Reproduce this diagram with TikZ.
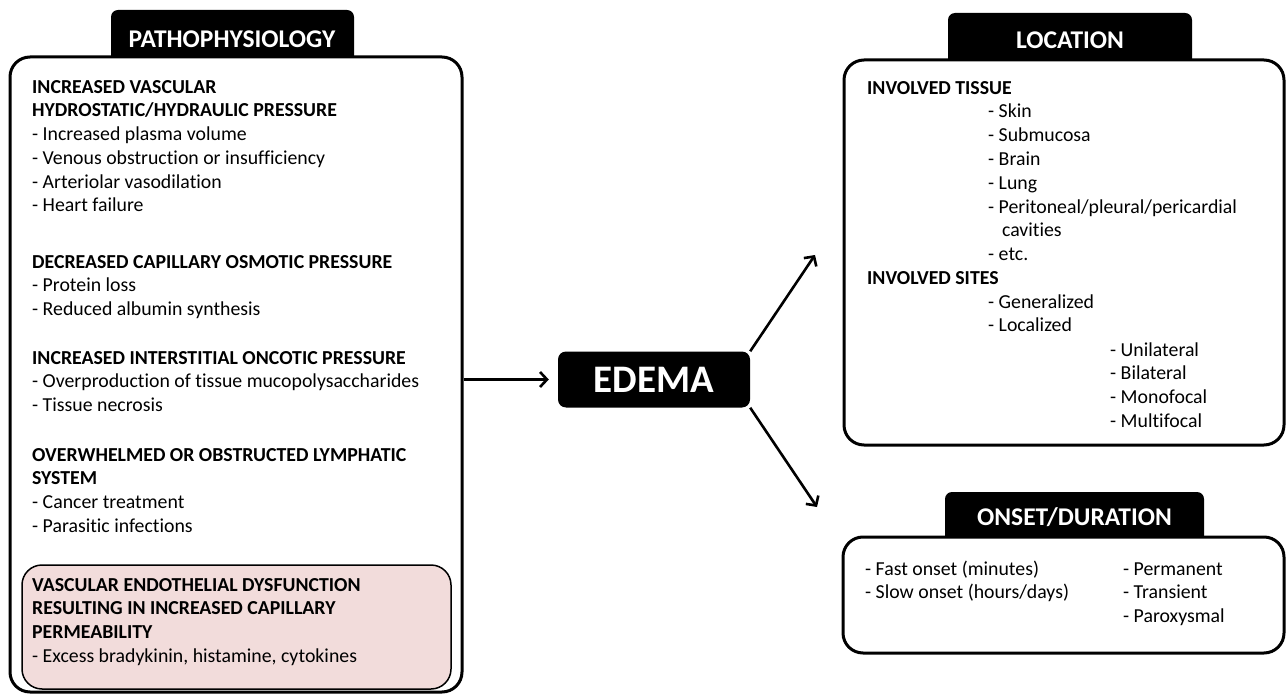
\documentclass[tikz,border=0pt]{standalone}
\usepackage{fontspec}
\setmainfont{Carlito}[Ligatures=NoCommon]
\usetikzlibrary{arrows.meta}
\definecolor{permpink}{HTML}{F2DCDB}
\begin{document}
\begin{tikzpicture}[x=1pt,y=-1pt,
    txt/.style={anchor=base west,align=left,inner sep=0pt,font=\fontsize{19.8}{23.8}\selectfont},
    tabtitle/.style={anchor=base,text=white,inner sep=0pt,font=\fontsize{25.5}{28}\selectfont\bfseries},
    arr/.style={line width=2.6pt,-{Straight Barb[length=7pt,width=15pt,line width=2.6pt]}}]
  \useasboundingbox[fill=white] (0,0) rectangle (1286,695);

  % black tabs behind the boxes
  \fill[rounded corners=7pt] (111,10) rectangle (354,80);
  \fill[rounded corners=7pt] (948,13) rectangle (1192,80);
  \fill[rounded corners=7pt] (945,492) rectangle (1204,560);

  \begin{scope}[every node/.style={draw,line width=3pt,rounded corners=20pt,fill=white,inner sep=0pt}]
    \node[minimum width=452,minimum height=635] (patho) at (236,374.5) {};
    \node[minimum width=440,minimum height=385] (loc) at (1064,252.5) {};
    \node[minimum width=441,minimum height=116] (onset) at (1063.5,595) {};
  \end{scope}
  \node[draw,line width=1.5pt,rounded corners=20pt,fill=permpink,inner sep=0pt,
        minimum width=429,minimum height=124] (perm) at (236.5,627) {};

  \node[tabtitle] (pathotitle) at (232,47.5) {PATHOPHYSIOLOGY};
  \node[tabtitle] (loctitle) at (1070,48.5) {LOCATION};
  \node[tabtitle] (onsettitle) at (1074.5,525.5) {ONSET/DURATION};

  \node[fill=black,rounded corners=8pt,minimum width=192,minimum height=56,text=white,
        font=\fontsize{39}{42}\selectfont\bfseries] (edema) at (654,379.5) {EDEMA};

  % pathophysiology (base = last line)
  \node[txt] (hydro) at (32,212) {\textbf{INCREASED VASCULAR}\\\textbf{HYDROSTATIC/HYDRAULIC PRESSURE}\\- Increased plasma volume\\- Venous obstruction or insufficiency\\- Arteriolar vasodilation\\- Heart failure};
  \node[txt] (osmo) at (32,315.6) {\textbf{DECREASED CAPILLARY OSMOTIC PRESSURE}\\- Protein loss\\- Reduced albumin synthesis};
  \node[txt] (onco) at (32,411.6) {\textbf{INCREASED INTERSTITIAL ONCOTIC PRESSURE}\\- Overproduction of tissue mucopolysaccharides\\- Tissue necrosis};
  \node[txt] (lymph) at (32,532.4) {\textbf{OVERWHELMED OR OBSTRUCTED LYMPHATIC}\\\textbf{SYSTEM}\\- Cancer treatment\\- Parasitic infections};
  \node[txt] (endo) at (32,662.4) {\textbf{VASCULAR ENDOTHELIAL DYSFUNCTION}\\\textbf{RESULTING IN INCREASED CAPILLARY}\\\textbf{PERMEABILITY}\\- Excess bradykinin, histamine, cytokines};

  % location
  \node[txt] (tissue) at (867,95) {\textbf{INVOLVED TISSUE}};
  \node[txt] (tissuelist) at (988,260.8) {- Skin\\- Submucosa\\- Brain\\- Lung\\- Peritoneal/pleural/pericardial\\\hspace*{0.7em}cavities\\- etc.};
  \node[txt] (sites) at (867,285) {\textbf{INVOLVED SITES}};
  \node[txt] (siteslist) at (988,331.8) {- Generalized\\- Localized};
  \node[txt] (locallist) at (1110,427.4) {- Unilateral\\- Bilateral\\- Monofocal\\- Multifocal};

  % onset/duration
  \node[txt] (speed) at (865,598.8) {- Fast onset (minutes)\\- Slow onset (hours/days)};
  \node[txt] (course) at (1123,622.6) {- Permanent\\- Transient\\- Paroxysmal};

  \coordinate (locin) at (815,255);
  \coordinate (onsetin) at (817,507);
  \draw[arr,shorten >=9pt] (patho.east |- edema.west) -- (edema.west);
  \draw[arr] (edema.north east) -- (locin);
  \draw[arr] (edema.south east) -- (onsetin);
\end{tikzpicture}
\end{document}
